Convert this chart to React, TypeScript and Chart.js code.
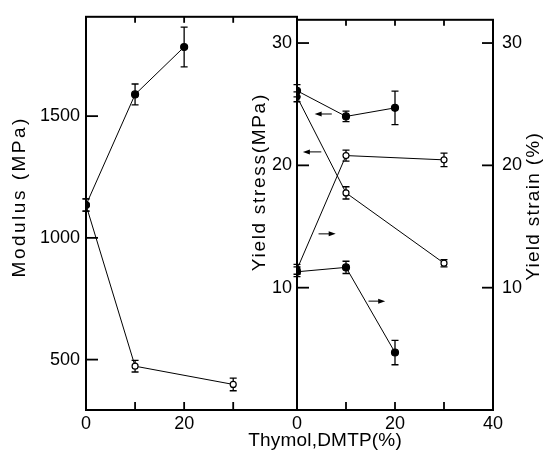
import React, { useEffect, useRef } from 'react';
import { Chart, registerables } from 'chart.js';

Chart.register(...registerables);

// ---------- Data ----------
// Left panel: Modulus (MPa)
const modThymolX = [0, 10, 20];
const modThymol = [1135, 1589, 1784];
const modThymolErr = [25, 43, 82];

const modDmtpX = [0, 10, 30];
const modDmtp = [1135, 473, 398];
const modDmtpErr = [25, 24, 26];

// Right panel: Yield stress (MPa, left axis) and Yield strain (%, right axis)
const ysThymolX = [0, 10, 20];
const ysThymol = [26.1, 24.0, 24.7];
const ysThymolErr = [0.5, 0.43, 1.37];

const ysDmtpX = [0, 10, 30];
const ysDmtp = [25.6, 17.75, 12.0];
const ysDmtpErr = [0.4, 0.5, 0.3];

const ystrDmtpX = [0, 10, 30];
const ystrDmtp = [11.5, 20.8, 20.45];
const ystrDmtpErr = [0.4, 0.45, 0.55];

const ystrThymolX = [0, 10, 20];
const ystrThymol = [11.3, 11.66, 4.7];
const ystrThymolErr = [0.4, 0.5, 1.0];

// Axis arrows (data units): which axis a curve belongs to
const arrowLeftY = [24.2, 21.1];
const arrowLeftFrom = [7.1, 4.96];
const arrowLeftTo = [3.6, 1.2];
const arrowRightY = [14.4, 8.9];
const arrowRightFrom = [4.4, 14.6];
const arrowRightTo = [7.9, 18.0];

// Tick values
const leftXTicks = [0, 10, 20, 30];
const leftXLabels = [0, 20];
const leftYTicks = [500, 1000, 1500];
const rightXTicks = [0, 10, 20, 30, 40];
const rightXLabels = [0, 20, 40];
const rightYTicks = [0, 10, 20, 30];
const rightYLabels = [10, 20, 30];

// ---------- Styles ----------
const FONT = "'Liberation Sans', Arial, Helvetica, sans-serif";
const W = 544;
const H = 458;

const pts = (xs: number[], ys: number[]) => xs.map((x, i) => ({ x, y: ys[i] }));

const errorBarPlugin = {
  id: 'errorBars',
  beforeDatasetsDraw(chart: any) {
    const { ctx } = chart;
    ctx.save();
    ctx.strokeStyle = '#000';
    ctx.lineWidth = 1.3;
    chart.data.datasets.forEach((ds: any, di: number) => {
      if (!ds.errors) return;
      const meta = chart.getDatasetMeta(di);
      const ys = chart.scales[meta.yAxisID];
      meta.data.forEach((el: any, i: number) => {
        const e = ds.errors[i];
        if (!e) return;
        const v = ds.data[i].y;
        const x = el.x;
        const y1 = ys.getPixelForValue(v + e);
        const y2 = ys.getPixelForValue(v - e);
        ctx.beginPath();
        ctx.moveTo(x, y1);
        ctx.lineTo(x, y2);
        ctx.moveTo(x - 3.5, y1);
        ctx.lineTo(x + 3.5, y1);
        ctx.moveTo(x - 3.5, y2);
        ctx.lineTo(x + 3.5, y2);
        ctx.stroke();
      });
    });
    ctx.restore();
  },
};

const framePlugin = {
  id: 'frame',
  afterDraw(chart: any, _args: any, opts: any) {
    const { ctx, chartArea: a } = chart;
    ctx.save();
    ctx.strokeStyle = '#000';
    ctx.lineWidth = 2;
    ctx.strokeRect(a.left, a.top, a.right - a.left, a.bottom - a.top);
    ctx.lineWidth = 1.8;
    (opts.marks || []).forEach((m: any) => {
      const s = chart.scales[m.scale];
      s.ticks.forEach((t: any) => {
        if (t.value <= s.min || t.value >= s.max) return;
        const p = s.getPixelForValue(t.value);
        ctx.beginPath();
        if (m.side === 'bottom') {
          ctx.moveTo(p, a.bottom);
          ctx.lineTo(p, a.bottom - m.len);
        } else if (m.side === 'top') {
          ctx.moveTo(p, a.top);
          ctx.lineTo(p, a.top + m.len);
        } else if (m.side === 'left') {
          ctx.moveTo(a.left, p);
          ctx.lineTo(a.left + m.len, p);
        } else {
          ctx.moveTo(a.right, p);
          ctx.lineTo(a.right - m.len, p);
        }
        ctx.stroke();
      });
    });
    // arrows
    (opts.arrows || []).forEach((ar: any) => {
      const xs = chart.scales.x;
      const ys = chart.scales[ar.scale];
      ar.y.forEach((yv: number, i: number) => {
        const x1 = xs.getPixelForValue(ar.from[i]);
        const x2 = xs.getPixelForValue(ar.to[i]);
        const y = ys.getPixelForValue(yv);
        const dir = Math.sign(x2 - x1);
        ctx.lineWidth = 1;
        ctx.beginPath();
        ctx.moveTo(x1, y);
        ctx.lineTo(x2 - dir * 5, y);
        ctx.stroke();
        ctx.beginPath();
        ctx.moveTo(x2, y);
        ctx.lineTo(x2 - dir * 7, y - 2.5);
        ctx.lineTo(x2 - dir * 7, y + 2.5);
        ctx.closePath();
        ctx.fillStyle = '#000';
        ctx.fill();
      });
    });
    // titles
    (opts.titles || []).forEach((t: any) => {
      ctx.save();
      ctx.fillStyle = '#000';
      ctx.font = `${t.size}px ${FONT}`;
      (ctx as any).letterSpacing = `${t.spacing}px`;
      ctx.textAlign = 'center';
      ctx.textBaseline = 'middle';
      ctx.translate(t.x, t.y);
      ctx.rotate(t.rot);
      ctx.fillText(t.text, t.spacing / 2, 0);
      ctx.restore();
    });
    ctx.restore();
  },
};

const tickFont = { family: FONT, size: 18 };

function lineDs(xs: number[], ys: number[], errs: number[], fill: string[] | string, radius: number, yAxisID = 'y') {
  return {
    data: pts(xs, ys),
    errors: errs,
    showLine: true,
    borderColor: '#000',
    borderWidth: 1,
    pointRadius: radius,
    pointBackgroundColor: fill,
    pointBorderColor: '#000',
    pointBorderWidth: 1.2,
    yAxisID,
  };
}

export default function App() {
  const leftRef = useRef<HTMLCanvasElement>(null);
  const rightRef = useRef<HTMLCanvasElement>(null);

  useEffect(() => {
    const left = new Chart(leftRef.current as HTMLCanvasElement, {
      type: 'scatter',
      data: {
        datasets: [
          lineDs(modThymolX, modThymol, modThymolErr, '#000', 3.5) as any,
          lineDs(modDmtpX, modDmtp, modDmtpErr, ['#000', '#fff', '#fff'], 3) as any,
        ],
      },
      options: {
        responsive: false,
        animation: false,
        events: [],
        layout: { padding: { left: 0, top: 13, right: W - 297, bottom: 0 } },
        plugins: {
          legend: { display: false },
          tooltip: { enabled: false },
          frame: {
            marks: [
              { scale: 'x', side: 'bottom', len: 8 },
              { scale: 'x', side: 'top', len: 6 },
              { scale: 'y', side: 'left', len: 12 },
            ],
            titles: [
              { text: 'Modulus (MPa)', x: 20, y: 198, rot: -Math.PI / 2, size: 19, spacing: 2.5 },
            ],
          },
        } as any,
        scales: {
          x: {
            type: 'linear',
            min: 0,
            max: 43,
            afterBuildTicks: (s: any) => {
              s.ticks = leftXTicks.map((v) => ({ value: v }));
            },
            afterFit: (s: any) => {
              s.height = 48;
            },
            ticks: {
              font: tickFont,
              color: '#000',
              padding: 3,
              maxRotation: 0,
              autoSkip: false,
              callback: (v: any) => (leftXLabels.includes(Number(v)) ? String(v) : ''),
            },
            grid: { display: false, drawTicks: false },
            border: { display: false },
          },
          y: {
            type: 'linear',
            min: 293,
            max: 1908,
            afterBuildTicks: (s: any) => {
              s.ticks = leftYTicks.map((v) => ({ value: v }));
            },
            afterFit: (s: any) => {
              s.width = 86;
            },
            ticks: {
              font: tickFont,
              color: '#000',
              padding: 6,
              autoSkip: false,
              callback: (v: any) => String(v),
            },
            grid: { display: false, drawTicks: false },
            border: { display: false },
          },
        },
      },
      plugins: [errorBarPlugin, framePlugin],
    });

    const right = new Chart(rightRef.current as HTMLCanvasElement, {
      type: 'scatter',
      data: {
        datasets: [
          lineDs(ysThymolX, ysThymol, ysThymolErr, '#000', 3.5) as any,
          lineDs(ysDmtpX, ysDmtp, ysDmtpErr, ['#000', '#fff', '#fff'], 3) as any,
          lineDs(ystrDmtpX, ystrDmtp, ystrDmtpErr, ['#000', '#fff', '#fff'], 3, 'y2') as any,
          lineDs(ystrThymolX, ystrThymol, ystrThymolErr, '#000', 3.5, 'y2') as any,
        ],
      },
      options: {
        responsive: false,
        animation: false,
        events: [],
        layout: { padding: { left: 0, top: 13, right: 0, bottom: 0 } },
        plugins: {
          legend: { display: false },
          tooltip: { enabled: false },
          frame: {
            marks: [
              { scale: 'x', side: 'bottom', len: 8 },
              { scale: 'x', side: 'top', len: 6 },
              { scale: 'y', side: 'left', len: 12 },
              { scale: 'y2', side: 'right', len: 11 },
            ],
            arrows: [
              { scale: 'y', y: arrowLeftY, from: arrowLeftFrom, to: arrowLeftTo },
              { scale: 'y2', y: arrowRightY, from: arrowRightFrom, to: arrowRightTo },
            ],
            titles: [
              { text: 'Yield stress(MPa)', x: 260, y: 183, rot: -Math.PI / 2, size: 19, spacing: 1.7 },
              { text: 'Yield strain (%)', x: 534, y: 207, rot: -Math.PI / 2, size: 19, spacing: 1.3 },
              { text: 'Thymol,DMTP(%)', x: 325, y: 441, rot: 0, size: 19, spacing: 0.2 },
            ],
          },
        } as any,
        scales: {
          x: {
            type: 'linear',
            min: 0,
            max: 40,
            afterBuildTicks: (s: any) => {
              s.ticks = rightXTicks.map((v) => ({ value: v }));
            },
            afterFit: (s: any) => {
              s.height = 48;
            },
            ticks: {
              font: tickFont,
              color: '#000',
              padding: 3,
              maxRotation: 0,
              autoSkip: false,
              callback: (v: any) => (rightXLabels.includes(Number(v)) ? String(v) : ''),
            },
            grid: { display: false, drawTicks: false },
            border: { display: false },
          },
          y: {
            type: 'linear',
            position: 'left',
            min: 0,
            max: 31.9,
            afterBuildTicks: (s: any) => {
              s.ticks = rightYTicks.map((v) => ({ value: v }));
            },
            afterFit: (s: any) => {
              s.width = 297;
            },
            ticks: {
              font: tickFont,
              color: '#000',
              padding: 5,
              autoSkip: false,
              callback: (v: any) => (rightYLabels.includes(Number(v)) ? String(v) : ''),
            },
            grid: { display: false, drawTicks: false },
            border: { display: false },
          },
          y2: {
            type: 'linear',
            position: 'right',
            min: 0,
            max: 31.9,
            afterBuildTicks: (s: any) => {
              s.ticks = rightYTicks.map((v) => ({ value: v }));
            },
            afterFit: (s: any) => {
              s.width = W - 493;
            },
            ticks: {
              font: tickFont,
              color: '#000',
              padding: 9,
              autoSkip: false,
              callback: (v: any) => (rightYLabels.includes(Number(v)) ? String(v) : ''),
            },
            grid: { display: false, drawTicks: false },
            border: { display: false },
          },
        },
      },
      plugins: [errorBarPlugin, framePlugin],
    });

    return () => {
      left.destroy();
      right.destroy();
    };
  }, []);

  return (
    <div style={{ position: 'absolute', left: 0, top: 0, width: W, height: H, background: '#fff' }}>
      <canvas ref={leftRef} width={W} height={H} style={{ position: 'absolute', left: 0, top: 0 }} />
      <canvas ref={rightRef} width={W} height={H} style={{ position: 'absolute', left: 0, top: 0 }} />
    </div>
  );
}
